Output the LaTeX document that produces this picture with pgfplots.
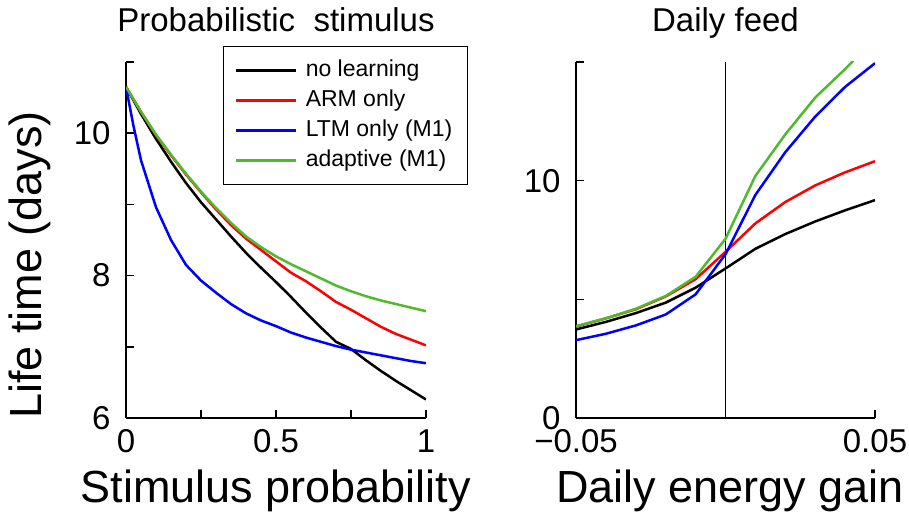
\documentclass[border=0pt]{standalone}
\usepackage{fontspec}
\setmainfont{Liberation Sans}
\usepackage{pgfplots}
\pgfplotsset{compat=1.18}

\definecolor{cgreen}{RGB}{80,185,45}

\pgfplotsset{
  panel/.style={
    scale only axis, height=356pt,
    axis lines=left, axis line style={-, line width=1.6pt},
    tick align=inside, major tick length=8pt,
    every tick/.style={black, line width=1.6pt},
    ticklabel style={font=\fontsize{33}{40}\selectfont},
    yticklabel style={xshift=-12pt},
    xticklabel style={yshift=-8pt},
    label style={font=\fontsize{45}{54}\selectfont},
    title style={font=\fontsize{33}{40}\selectfont, at={(0.5,1)}, anchor=base, yshift=24pt},
    xlabel style={at={(0.5,-0.236)}, anchor=base},
    scaled ticks=false,
    every axis plot/.append style={line width=2.5pt},
  },
}

\begin{document}
\begin{tikzpicture}
% left panel
\begin{axis}[panel, at={(126pt,98pt)}, anchor=south west, width=300pt,
  xmin=0, xmax=1, ymin=6, ymax=11,
  xtick={0,0.25,0.5,0.75,1}, xticklabels={0,,0.5,,1},
  ytick={6,7,8,9,10,11}, yticklabels={6,,8,,10,},
  title={Probabilistic\ \ stimulus},
  xlabel={Stimulus probability},
  ylabel={Life time (days)},
  ylabel style={at={(-0.28,0.43)}, anchor=base, rotate=0},
  legend style={at={(1.14,1.045)}, anchor=north east, draw=black, line width=1.4pt,
    font=\fontsize{23}{28}\selectfont, inner xsep=11pt, inner ysep=9pt,
    column sep=5pt, row sep=0pt,
    nodes={text height=17pt, text depth=5pt, inner sep=4pt}},
  legend cell align=left,
  legend image code/.code={\draw[#1, line width=2.5pt] (0pt,0pt) -- (60pt,0pt);},
]
\addplot[black] coordinates {
(0,10.65) (0.05,10.27) (0.1,9.92) (0.15,9.6) (0.2,9.3) (0.25,9.03)
(0.3,8.79) (0.35,8.55) (0.4,8.32) (0.45,8.11) (0.5,7.91) (0.55,7.7)
(0.6,7.48) (0.65,7.27) (0.7,7.07) (0.75,6.97) (0.8,6.81) (0.85,6.66)
(0.9,6.52) (0.95,6.39) (1,6.26)};
\addlegendentry{no learning}
\addplot[red] coordinates {
(0,10.65) (0.05,10.3) (0.1,9.97) (0.15,9.69) (0.2,9.42) (0.25,9.17)
(0.3,8.93) (0.35,8.71) (0.4,8.52) (0.45,8.36) (0.5,8.2) (0.55,8.04)
(0.6,7.92) (0.65,7.78) (0.7,7.63) (0.75,7.52) (0.8,7.4) (0.85,7.28)
(0.9,7.18) (0.95,7.1) (1,7.02)};
\addlegendentry{ARM only}
\addplot[blue] coordinates {
(0,10.65) (0.025,10.1) (0.05,9.62) (0.1,8.96) (0.15,8.5) (0.2,8.15)
(0.25,7.93) (0.3,7.76) (0.35,7.6) (0.4,7.47) (0.45,7.37) (0.5,7.29)
(0.55,7.2) (0.6,7.13) (0.65,7.07) (0.7,7.01) (0.75,6.96) (0.8,6.92)
(0.85,6.88) (0.9,6.84) (0.95,6.8) (1,6.77)};
\addlegendentry{LTM only (M1)}
\addplot[cgreen] coordinates {
(0,10.65) (0.05,10.3) (0.1,9.98) (0.15,9.7) (0.2,9.43) (0.25,9.18)
(0.3,8.95) (0.35,8.74) (0.4,8.55) (0.45,8.4) (0.5,8.27) (0.55,8.16)
(0.6,8.06) (0.65,7.96) (0.7,7.86) (0.75,7.78) (0.8,7.71) (0.85,7.65)
(0.9,7.6) (0.95,7.55) (1,7.5)};
\addlegendentry{adaptive (M1)}
\end{axis}

% right panel
\begin{axis}[panel, at={(576pt,98pt)}, anchor=south west, width=299pt,
  xmin=-0.05, xmax=0.05, ymin=0, ymax=15,
  xtick={-0.05,0,0.05}, xticklabels={−0.05,,0.05},
  ytick={0,5,10,15}, yticklabels={0,,10,},
  title={Daily feed},
  xlabel={Daily energy gain},
  xlabel style={at={(0.515,-0.236)}},
]
\addplot[black, line width=1.3pt] coordinates {(0,0) (0,15)};
\addplot[black] coordinates {
(-0.05,3.73) (-0.04,4.05) (-0.03,4.42) (-0.02,4.86) (-0.01,5.49) (0,6.3)
(0.01,7.13) (0.02,7.75) (0.03,8.28) (0.04,8.75) (0.05,9.18)};
\addplot[red] coordinates {
(-0.05,3.85) (-0.04,4.2) (-0.03,4.58) (-0.02,5.12) (-0.01,5.85) (0,7.0)
(0.01,8.2) (0.02,9.1) (0.03,9.8) (0.04,10.35) (0.05,10.82)};
\addplot[blue] coordinates {
(-0.05,3.28) (-0.04,3.55) (-0.03,3.9) (-0.02,4.36) (-0.01,5.21) (0,6.9)
(0.01,9.4) (0.02,11.2) (0.03,12.7) (0.04,13.95) (0.05,14.95)};
\addplot[cgreen] coordinates {
(-0.05,3.87) (-0.04,4.2) (-0.03,4.6) (-0.02,5.14) (-0.01,5.95) (0,7.55)
(0.01,10.2) (0.02,11.95) (0.03,13.5) (0.04,14.7) (0.05,16.0)};
\end{axis}
\pgfresetboundingbox
\path (0pt,0pt) rectangle (909pt,516pt);
\end{tikzpicture}
\end{document}
